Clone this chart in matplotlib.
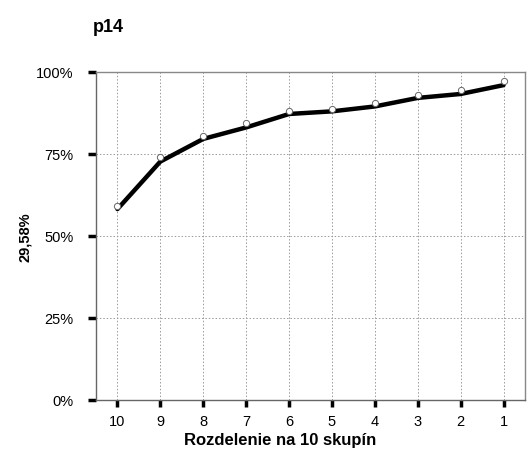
import numpy as np
import matplotlib
matplotlib.use('Agg')
import matplotlib.pyplot as plt

plt.rcParams['font.family'] = ['Liberation Sans', 'DejaVu Sans']

# Dados
skupiny = ['10', '9', '8', '7', '6', '5', '4', '3', '2', '1']
krivka = [58.2, 72.7, 79.6, 83.1, 87.2, 88.0, 89.5, 92.1, 93.3, 96.0]
body = [59.2, 74.0, 80.6, 84.3, 88.2, 88.7, 90.5, 93.1, 94.5, 97.3]
y_ticky = [0, 25, 50, 75, 100]

fig = plt.figure(figsize=(5.31, 4.52), dpi=100)
ax = fig.add_axes([96 / 531, 1 - 401 / 452, (525 - 96) / 531, (401 - 73) / 452])

x = np.arange(len(skupiny))
ax.plot(x, krivka, color='black', linewidth=3.2, solid_capstyle='round', zorder=3)
ax.plot(x, body, linestyle='none', marker='o', markersize=4.5,
        markerfacecolor='white', markeredgecolor='#666666', markeredgewidth=0.7, zorder=4)

ax.set_xlim(-0.5, len(skupiny) - 0.5)
ax.set_ylim(0, 100)
ax.set_xticks(x)
ax.set_xticklabels(skupiny, fontsize=10.5)
ax.set_yticks(y_ticky)
ax.set_yticklabels([f'{v}%' for v in y_ticky], fontsize=10.5)

# Grade pontilhada
ax.grid(True, color='#9a9a9a', linestyle=(0, (1.5, 2)), linewidth=0.7)
ax.set_axisbelow(True)

for s in ['top', 'right']:
    ax.spines[s].set_color('#888888')
for s in ['left', 'bottom']:
    ax.spines[s].set_color('#666666')
for s in ax.spines.values():
    s.set_linewidth(1.0)

ax.tick_params(axis='y', direction='out', length=6, width=2.5, color='black', pad=10)
ax.tick_params(axis='x', direction='out', length=5, width=2.5, color='black', pad=5)

ax.set_xlabel('Rozdelenie na 10 skupín', fontsize=12, fontweight='bold')
ax.xaxis.set_label_coords((280 - 96) / 429, -0.097)
ax.set_ylabel('29,58%', fontsize=10.5, fontweight='bold', labelpad=3)
fig.text(93 / 531, 1 - 27 / 452, 'p14', fontsize=13, fontweight='bold', va='center', ha='left')

fig.savefig('out.png', dpi=100)
